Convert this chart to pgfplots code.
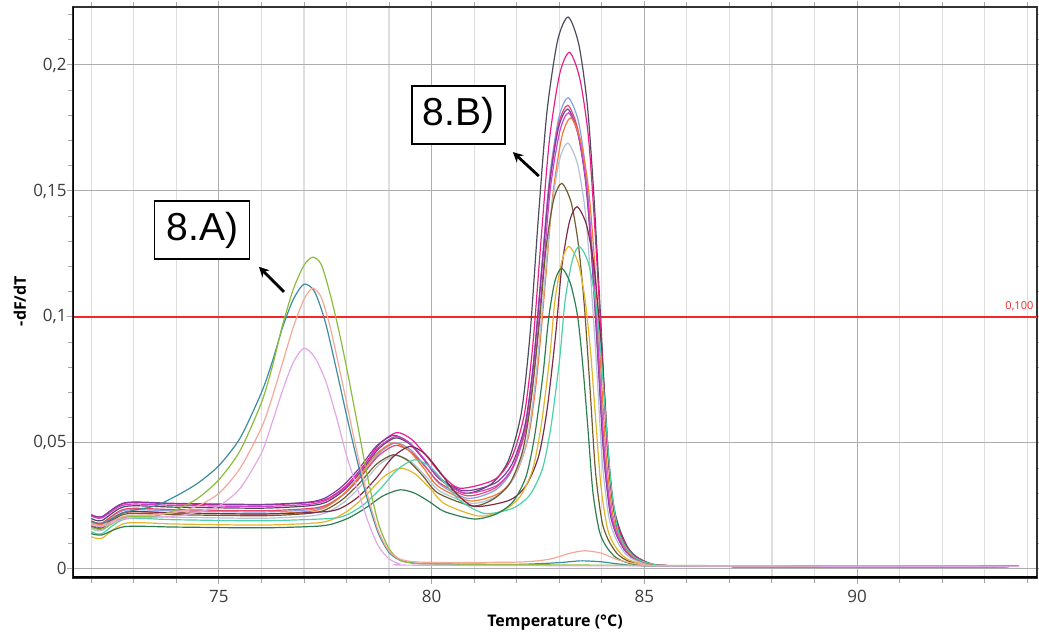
\documentclass[border=0pt]{standalone}
\usepackage{pgfplots}
\pgfplotsset{compat=1.18}
\usetikzlibrary{arrows.meta}
\usepackage{fontspec}
\setmainfont{Open Sans}
\newfontfamily\arialfont{Liberation Sans}
\definecolor{c1}{HTML}{4C4C5E}
\definecolor{c2}{HTML}{E8208C}
\definecolor{c3}{HTML}{86A0E8}
\definecolor{c4}{HTML}{E84868}
\definecolor{c5}{HTML}{7E3CA0}
\definecolor{c6}{HTML}{D040C8}
\definecolor{c7}{HTML}{F07A3A}
\definecolor{c8}{HTML}{B4C0D8}
\definecolor{c9}{HTML}{6E5C2C}
\definecolor{c10}{HTML}{7C2C48}
\definecolor{c11}{HTML}{E4B42A}
\definecolor{c12}{HTML}{4CD0A8}
\definecolor{c13}{HTML}{2E7E50}
\definecolor{a1}{HTML}{3C8CA4}
\definecolor{a2}{HTML}{8CBC3C}
\definecolor{a3}{HTML}{F4A898}
\definecolor{a4}{HTML}{E2A8E6}
\definecolor{thr}{HTML}{F02828}
\definecolor{tick}{HTML}{3C3C3C}
\begin{document}
\begin{tikzpicture}
\begin{axis}[
  name=ax,
  scale only axis,
  width=482pt, height=285.5pt,
  xmin=71.57, xmax=94.23,
  ymin=-0.0036, ymax=0.223,
  xtick={75,80,85,90}, xticklabels={75,80,85,90},
  minor xtick={72,73,74,76,77,78,79,81,82,83,84,86,87,88,89,91,92,93,94},
  ytick={0,0.05,0.1,0.15,0.2}, yticklabels={0,{0,05},{0,1},{0,15},{0,2}},
  minor ytick={0.01,0.02,0.03,0.04,0.06,0.07,0.08,0.09,0.11,0.12,0.13,0.14,0.16,0.17,0.18,0.19,0.21,0.22},
  xmajorgrids=true, xminorgrids=true, ymajorgrids=true, yminorgrids=false,
  major grid style={color=black!32, line width=0.5pt},
  minor grid style={color=black!13, line width=0.6pt},
  tick align=outside,
  major tick length=3pt, minor tick length=2.5pt,
  every tick/.style={color=black!35, line width=0.5pt},
  axis line style={color=black!80, line width=0.8pt},
  tick label style={font=\fontsize{8.5}{9}\selectfont, text=tick},
  yticklabel style={inner sep=1.5pt, xshift=1.5pt},
  xticklabel style={inner sep=2pt, yshift=-1pt},
  xlabel={Temperature (°C)},
  ylabel={-dF/dT},
  xlabel style={at={(axis description cs:0.5,-0.079)}, anchor=center, font=\bfseries\fontsize{8}{9}\selectfont},
  ylabel style={at={(axis description cs:-0.055,0.485)}, anchor=center, font=\bfseries\fontsize{8}{9}\selectfont},
  clip=true,
  every axis plot/.append style={line width=0.6pt, smooth, tension=0.45},
]
% threshold
\addplot[thr, line width=1.4pt, sharp plot] coordinates {(71.57,0.1) (94.23,0.1)};
% ---------- group B ----------
\addplot[c1] coordinates {(72,0.0200)(72.25,0.0192)(72.8,0.0248)(74,0.0245)(76,0.0241)(77.15,0.0251)(77.55,0.0267)(77.95,0.0314)(78.35,0.0388)(78.75,0.0476)(79.15,0.052)(79.5,0.0494)(79.85,0.0428)(80.2,0.0355)(80.8,0.030)(81.41,0.0338)(81.81,0.0432)(82.11,0.0621)(82.31,0.0924)(82.51,0.1396)(82.71,0.1812)(82.96,0.2096)(83.21,0.219)(83.46,0.2081)(83.66,0.1841)(83.81,0.1492)(83.96,0.1035)(84.11,0.0555)(84.26,0.0272)(84.41,0.0163)(84.61,0.0086)(84.81,0.0049)(85.11,0.0023)(85.41,0.0014)(87,0.001)(93.8,0.001)};
\addplot[c2] coordinates {(72,0.0215)(72.25,0.0207)(72.8,0.0261)(74,0.0258)(76,0.0254)(77.18,0.0264)(77.58,0.0281)(77.98,0.0329)(78.38,0.0405)(78.78,0.0496)(79.18,0.0541)(79.53,0.0514)(79.88,0.0448)(80.23,0.0375)(80.67,0.032)(81.48,0.0355)(81.88,0.0441)(82.18,0.0614)(82.38,0.0891)(82.58,0.1323)(82.77,0.1704)(83.01,0.1964)(83.24,0.205)(83.48,0.1948)(83.68,0.1724)(83.82,0.1397)(83.97,0.0969)(84.11,0.0520)(84.26,0.0255)(84.41,0.0153)(84.61,0.0081)(84.81,0.0047)(85.11,0.0022)(85.41,0.0014)(87,0.001)(93.8,0.001)};
\addplot[c3] coordinates {(72,0.0190)(72.25,0.0182)(72.8,0.0233)(74,0.0230)(76,0.0226)(77.15,0.0235)(77.55,0.0252)(77.95,0.0298)(78.35,0.0370)(78.75,0.0457)(79.15,0.050)(79.5,0.0474)(79.85,0.0408)(80.2,0.0335)(80.85,0.028)(81.49,0.0312)(81.89,0.0391)(82.19,0.0550)(82.39,0.0805)(82.59,0.1202)(82.77,0.1552)(82.99,0.1791)(83.21,0.187)(83.45,0.1777)(83.63,0.1572)(83.77,0.1275)(83.92,0.0884)(84.06,0.0475)(84.21,0.0233)(84.36,0.0140)(84.56,0.0075)(84.76,0.0043)(85.06,0.0021)(85.36,0.0014)(87,0.001)(93.8,0.001)};
\addplot[c4] coordinates {(72,0.0190)(72.25,0.0182)(72.8,0.0238)(74,0.0235)(76,0.0231)(77.15,0.0240)(77.55,0.0255)(77.95,0.0299)(78.35,0.0368)(78.75,0.0449)(79.15,0.049)(79.5,0.0466)(79.85,0.0406)(80.2,0.0340)(80.85,0.029)(81.49,0.0321)(81.89,0.0399)(82.19,0.0554)(82.39,0.0802)(82.59,0.1189)(82.77,0.1530)(82.98,0.1763)(83.2,0.184)(83.43,0.1749)(83.62,0.1547)(83.76,0.1254)(83.90,0.0870)(84.04,0.0468)(84.19,0.0230)(84.34,0.0138)(84.54,0.0074)(84.74,0.0043)(85.04,0.0021)(85.34,0.0014)(87,0.001)(93.8,0.001)};
\addplot[c5] coordinates {(72,0.0215)(72.25,0.0207)(72.8,0.0263)(74,0.0260)(76,0.0256)(77.1,0.0265)(77.5,0.0282)(77.9,0.0328)(78.3,0.0400)(78.7,0.0487)(79.1,0.053)(79.45,0.0504)(79.8,0.0438)(80.15,0.0365)(80.75,0.031)(81.49,0.0340)(81.89,0.0416)(82.19,0.0568)(82.39,0.0810)(82.59,0.1189)(82.77,0.1522)(82.98,0.1749)(83.2,0.1825)(83.43,0.1734)(83.62,0.1535)(83.76,0.1244)(83.90,0.0863)(84.04,0.0464)(84.19,0.0228)(84.34,0.0137)(84.54,0.0074)(84.74,0.0043)(85.04,0.0021)(85.34,0.0014)(87,0.001)(93.8,0.001)};
\addplot[c6] coordinates {(72,0.0210)(72.25,0.0202)(72.8,0.0255)(74,0.0252)(76,0.0248)(77.15,0.0257)(77.55,0.0274)(77.95,0.0320)(78.35,0.0394)(78.75,0.0481)(79.15,0.0525)(79.5,0.0498)(79.85,0.0431)(80.2,0.0356)(80.8,0.030)(81.52,0.0330)(81.92,0.0406)(82.22,0.0557)(82.42,0.0798)(82.62,0.1176)(82.79,0.1508)(83.01,0.1735)(83.22,0.181)(83.45,0.1720)(83.64,0.1522)(83.78,0.1234)(83.92,0.0856)(84.06,0.0460)(84.21,0.0226)(84.36,0.0136)(84.56,0.0073)(84.76,0.0042)(85.06,0.0021)(85.36,0.0014)(87,0.001)(93.8,0.001)};
\addplot[c7] coordinates {(72,0.0185)(72.25,0.0177)(72.8,0.0225)(74,0.0222)(76,0.0218)(77.1,0.0228)(77.5,0.0244)(77.9,0.0292)(78.3,0.0367)(78.7,0.0456)(79.1,0.050)(79.45,0.0472)(79.8,0.0403)(80.15,0.0328)(80.9,0.027)(81.58,0.0300)(81.98,0.0376)(82.28,0.0528)(82.48,0.0772)(82.68,0.1152)(82.85,0.1486)(83.06,0.1714)(83.27,0.179)(83.50,0.1701)(83.69,0.1505)(83.83,0.1220)(83.96,0.0847)(84.10,0.0455)(84.25,0.0224)(84.40,0.0135)(84.60,0.0072)(84.80,0.0042)(85.10,0.0021)(85.40,0.0014)(87,0.001)(93.8,0.001)};
\addplot[c8] coordinates {(72,0.0160)(72.25,0.0152)(72.8,0.0208)(74,0.0205)(76,0.0201)(77.15,0.0210)(77.55,0.0225)(77.95,0.0266)(78.35,0.0332)(78.75,0.0411)(79.15,0.045)(79.5,0.0427)(79.85,0.0370)(80.2,0.0308)(80.95,0.026)(81.53,0.0289)(81.93,0.0360)(82.23,0.0503)(82.43,0.0732)(82.63,0.1089)(82.80,0.1404)(83.00,0.1619)(83.2,0.169)(83.43,0.1606)(83.61,0.1421)(83.74,0.1152)(83.88,0.0800)(84.01,0.0430)(84.16,0.0212)(84.31,0.0128)(84.51,0.0069)(84.71,0.0040)(85.01,0.0020)(85.31,0.0013)(87,0.001)(93.8,0.001)};
\addplot[c9] coordinates {(72,0.0170)(72.25,0.0162)(72.8,0.0218)(74,0.0215)(76,0.0211)(77.1,0.0220)(77.5,0.0234)(77.9,0.0275)(78.3,0.0339)(78.7,0.0415)(79.1,0.0453)(79.45,0.0429)(79.8,0.0368)(80.15,0.0301)(80.95,0.025)(81.44,0.0276)(81.84,0.0340)(82.14,0.0468)(82.34,0.0672)(82.54,0.0992)(82.69,0.1274)(82.87,0.1466)(83.06,0.153)(83.28,0.1454)(83.45,0.1287)(83.59,0.1044)(83.72,0.0724)(83.85,0.0390)(84.00,0.0192)(84.15,0.0116)(84.35,0.0063)(84.55,0.0037)(84.85,0.0019)(85.15,0.0013)(87,0.001)(93.8,0.001)};
\addplot[c10] coordinates {(72,0.0175)(72.25,0.0167)(72.8,0.0225)(74,0.0222)(76,0.0218)(77.49,0.0227)(77.89,0.0243)(78.29,0.0288)(78.69,0.0359)(79.09,0.0444)(79.49,0.0486)(79.84,0.0457)(80.19,0.0386)(80.54,0.0307)(81.0,0.0248)(81.82,0.0272)(82.22,0.0331)(82.52,0.0450)(82.72,0.0640)(82.92,0.0938)(83.06,0.1199)(83.24,0.1378)(83.42,0.1437)(83.64,0.1366)(83.81,0.1209)(83.94,0.0980)(84.07,0.0681)(84.19,0.0367)(84.34,0.0181)(84.49,0.0110)(84.69,0.0060)(84.89,0.0036)(85.19,0.0019)(85.49,0.0013)(87,0.001)(93.8,0.001)};
\addplot[c11] coordinates {(72,0.0128)(72.25,0.0122)(72.8,0.0181)(74,0.0178)(76,0.0174)(77.26,0.0182)(77.66,0.0196)(78.06,0.0234)(78.46,0.0293)(78.86,0.0364)(79.26,0.040)(79.61,0.0377)(79.96,0.0320)(80.31,0.0258)(81.1,0.021)(81.67,0.0231)(82.07,0.0285)(82.37,0.0392)(82.57,0.0563)(82.77,0.0831)(82.90,0.1066)(83.07,0.1227)(83.23,0.128)(83.44,0.1217)(83.60,0.1077)(83.73,0.0874)(83.85,0.0607)(83.98,0.0328)(84.13,0.0162)(84.28,0.0099)(84.48,0.0054)(84.68,0.0033)(84.98,0.0018)(85.28,0.0013)(87,0.001)(93.8,0.001)};
\addplot[c12] coordinates {(72,0.0148)(72.25,0.0140)(72.8,0.0198)(74,0.0195)(76,0.0191)(77.6,0.0200)(78.0,0.0214)(78.4,0.0255)(78.8,0.0319)(79.2,0.0395)(79.6,0.0433)(79.95,0.0407)(80.3,0.0344)(80.65,0.0273)(81.25,0.022)(81.91,0.0241)(82.31,0.0294)(82.61,0.0400)(82.81,0.0570)(83.01,0.0835)(83.14,0.1068)(83.31,0.1227)(83.47,0.128)(83.68,0.1217)(83.84,0.1077)(83.97,0.0874)(84.09,0.0607)(84.22,0.0328)(84.37,0.0162)(84.52,0.0099)(84.72,0.0054)(84.92,0.0033)(85.22,0.0018)(85.52,0.0013)(87,0.001)(93.8,0.001)};
\addplot[c13] coordinates {(72,0.0140)(72.25,0.0135)(72.8,0.0168)(74,0.0166)(76,0.0163)(77.26,0.0169)(77.66,0.0178)(78.06,0.0203)(78.46,0.0243)(78.86,0.0290)(79.26,0.0314)(79.61,0.0300)(79.96,0.0265)(80.31,0.0227)(81.0,0.0198)(81.52,0.0218)(81.92,0.0268)(82.22,0.0367)(82.42,0.0526)(82.62,0.0775)(82.75,0.0994)(82.90,0.1143)(83.06,0.1193)(83.26,0.1134)(83.43,0.1004)(83.55,0.0814)(83.67,0.0566)(83.79,0.0306)(83.94,0.0152)(84.09,0.0093)(84.29,0.0051)(84.49,0.0031)(84.79,0.0017)(85.09,0.0012)(87,0.001)(93.8,0.001)};
% ---------- group A ----------
\addplot[a1] coordinates {(72,0.0190)(72.25,0.0180)(72.8,0.0225)(73.5,0.0250)(74,0.0290)(74.5,0.0340)(75,0.0410)(75.5,0.0520)(76,0.0700)(76.25,0.0820)(76.5,0.0960)(76.75,0.1070)(77.0,0.1130)(77.25,0.1100)(77.5,0.0980)(77.75,0.0800)(78.0,0.0610)(78.25,0.0430)(78.5,0.0270)(78.75,0.0140)(79.0,0.0065)(79.25,0.0035)(79.5,0.0025)(80,0.0020)(82,0.0018)(83,0.0025)(83.5,0.0032)(84,0.0028)(84.5,0.0018)(85.5,0.0012)(93.8,0.0010)};
\addplot[a2] coordinates {(72,0.0165)(72.25,0.0158)(72.8,0.0205)(73.5,0.0210)(74,0.0235)(74.5,0.0280)(75,0.0354)(75.5,0.0470)(76,0.0660)(76.25,0.0800)(76.5,0.0970)(76.75,0.1110)(77.0,0.1205)(77.2,0.1237)(77.4,0.1210)(77.6,0.1100)(77.8,0.0960)(78.0,0.0800)(78.25,0.0580)(78.5,0.0360)(78.75,0.0180)(79.0,0.0080)(79.25,0.0035)(79.5,0.0025)(80,0.0020)(85,0.0014)(93.8,0.0010)};
\addplot[a3] coordinates {(72,0.0180)(72.25,0.0172)(72.8,0.0210)(73.5,0.0215)(74,0.0225)(74.5,0.0250)(75,0.0300)(75.5,0.0400)(76,0.0560)(76.25,0.0680)(76.5,0.0820)(76.75,0.0960)(77.0,0.1070)(77.2,0.1114)(77.4,0.1080)(77.6,0.0970)(77.8,0.0820)(78.0,0.0660)(78.25,0.0460)(78.5,0.0290)(78.75,0.0150)(79.0,0.0070)(79.25,0.0040)(79.5,0.0030)(80,0.0026)(82,0.0027)(82.75,0.0038)(83.25,0.0062)(83.6,0.0072)(84.0,0.0062)(84.4,0.0035)(85,0.0016)(86,0.0012)(93.8,0.0010)};
\addplot[a4] coordinates {(72,0.0175)(72.25,0.0168)(72.8,0.0200)(73.5,0.0205)(74,0.0210)(74.5,0.0225)(75,0.0250)(75.5,0.0320)(76,0.0460)(76.25,0.0580)(76.5,0.0710)(76.75,0.0820)(77.0,0.0876)(77.25,0.0840)(77.5,0.0750)(77.75,0.0610)(78.0,0.0450)(78.25,0.0320)(78.5,0.0190)(78.75,0.0090)(79.0,0.0040)(79.25,0.0020)(79.5,0.0015)(85,0.0012)(93.8,0.0010)};
% emphasised left and bottom axis lines
\draw[black, line width=1.5pt] (rel axis cs:0,1) -- (rel axis cs:0,0) -- (rel axis cs:1,0);
% threshold label
\node[anchor=south east, text=thr, font=\fontsize{5.5}{6}\selectfont, inner sep=1pt] at (axis cs:94.2,0.1013) {0,100};
% annotations
\node[draw=black, line width=0.6pt, fill=white, minimum width=47.5pt, minimum height=29pt, inner sep=0pt, font=\arialfont\fontsize{19.5}{20}\selectfont] at (axis cs:74.61,0.1345) {8.A)};
\node[draw=black, line width=0.6pt, fill=white, minimum width=46.5pt, minimum height=29pt, inner sep=0pt, font=\arialfont\fontsize{19.5}{20}\selectfont] at (axis cs:80.63,0.1801) {8.B)};
\draw[-{Stealth[length=5pt,width=5pt]}, line width=1.4pt] (axis cs:76.53,0.1099) -- (axis cs:75.94,0.1199);
\draw[-{Stealth[length=5pt,width=5pt]}, line width=1.4pt] (axis cs:82.52,0.1559) -- (axis cs:81.91,0.1654);
\end{axis}
\pgfresetboundingbox
\path[use as bounding box] ([xshift=-36.5pt,yshift=-30.5pt]ax.south west) rectangle ([xshift=1pt,yshift=3.5pt]ax.north east);
\end{tikzpicture}
\end{document}
